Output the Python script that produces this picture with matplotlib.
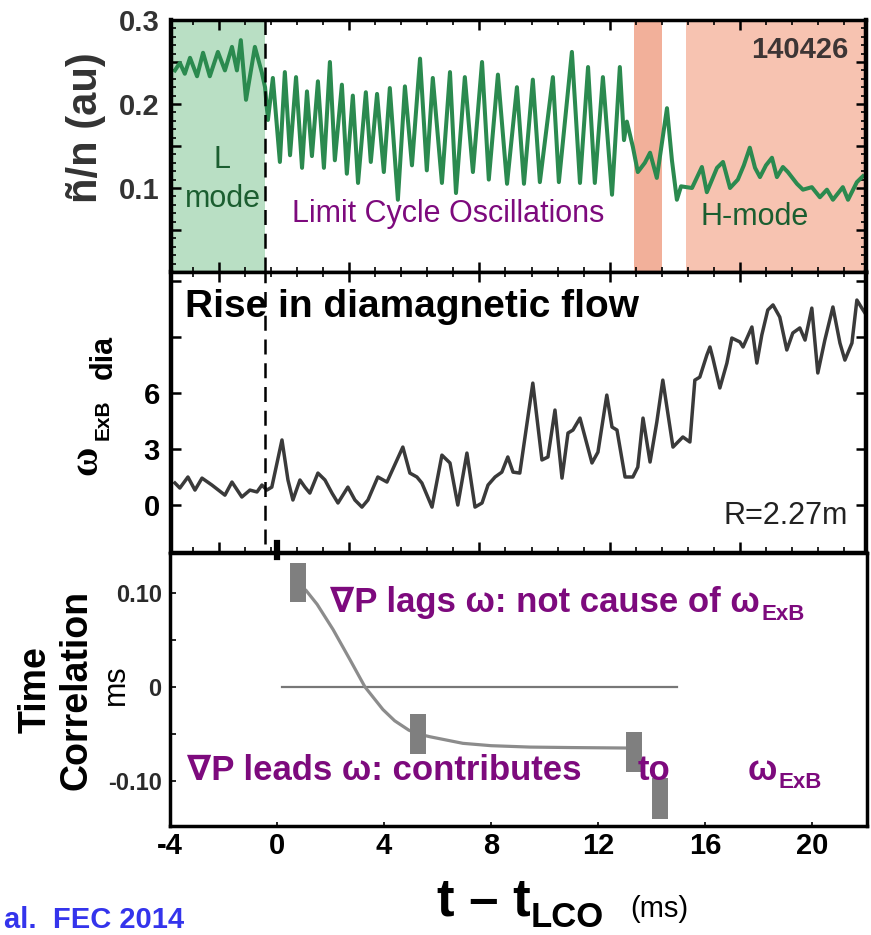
import numpy as np
import matplotlib.pyplot as plt

W, H = 871, 935

# ---- data ----
# shaded regimes on the upper time axis (ms)
t_lco = 1.77
lmode_span = (-1.84, 1.77)
hmode_spans = [(15.93, 17.0), (17.93, 24.84)]

# density fluctuation level n~/n (au)
t_n = [-1.69, -1.50, -1.31, -1.11, -0.84, -0.61, -0.35, -0.04, 0.23, 0.50,
       0.69, 0.84, 1.04, 1.38, 1.65, 1.77,
       1.88, 2.07, 2.34, 2.53, 2.73, 2.96, 3.19, 3.38, 3.57, 3.80,
       4.03, 4.26, 4.45, 4.72, 4.91, 5.14, 5.34, 5.64, 5.83, 6.07,
       6.33, 6.56, 6.87, 7.14, 7.41, 7.72, 7.98, 8.21, 8.56, 8.87,
       9.10, 9.44, 9.75, 10.10, 10.36, 10.71, 11.06, 11.44, 11.71, 12.05,
       12.32, 12.82, 13.05, 13.55, 13.86, 14.17, 14.43, 14.74, 15.09, 15.39,
       15.55, 15.66, 15.89, 16.08, 16.35, 16.55, 16.81, 17.20, 17.39, 17.58,
       17.74, 18.16, 18.54, 18.73, 19.12, 19.35, 19.62, 19.92, 20.15, 20.38,
       20.58, 20.77, 21.00, 21.23, 21.42, 21.65, 21.84, 22.19, 22.42, 22.76,
       23.07, 23.34, 23.57, 23.95, 24.15, 24.49, 24.72]
n_fluct = [0.240, 0.249, 0.236, 0.255, 0.233, 0.261, 0.233, 0.262, 0.240, 0.268,
           0.240, 0.276, 0.205, 0.268, 0.237, 0.220,
           0.181, 0.231, 0.131, 0.238, 0.139, 0.232, 0.124, 0.215, 0.138, 0.227,
           0.124, 0.250, 0.133, 0.223, 0.117, 0.210, 0.106, 0.214, 0.131, 0.212,
           0.119, 0.219, 0.086, 0.221, 0.127, 0.254, 0.121, 0.231, 0.106, 0.238,
           0.094, 0.232, 0.119, 0.250, 0.110, 0.235, 0.105, 0.220, 0.105, 0.229,
           0.107, 0.232, 0.107, 0.262, 0.106, 0.244, 0.106, 0.232, 0.092, 0.244,
           0.157, 0.179, 0.149, 0.119, 0.130, 0.142, 0.112, 0.195, 0.133, 0.086,
           0.102, 0.100, 0.125, 0.095, 0.124, 0.131, 0.100, 0.110, 0.127, 0.148,
           0.124, 0.113, 0.127, 0.136, 0.113, 0.125, 0.119, 0.105, 0.098, 0.101,
           0.089, 0.098, 0.086, 0.101, 0.086, 0.107, 0.114]

# diamagnetic ExB rate at R = 2.27 m
t_w = [-1.69, -1.50, -1.19, -0.92, -0.65, -0.27, 0.23, 0.50, 0.88, 1.19,
       1.46, 1.65, 1.84, 2.03, 2.42, 2.65, 2.84, 3.11, 3.30, 3.49,
       3.80, 4.07, 4.34, 4.57, 4.95, 5.22, 5.49, 5.72, 6.10, 6.45,
       7.06, 7.33, 7.60, 7.79, 8.18, 8.56, 8.87, 9.17, 9.52, 9.83,
       10.10, 10.33, 10.60, 10.86, 11.09, 11.29, 11.55, 12.05, 12.40, 12.63,
       12.90, 13.17, 13.40, 13.59, 13.86, 14.32, 14.55, 14.89, 15.09, 15.28,
       15.59, 15.89, 16.08, 16.28, 16.55, 16.81, 17.04, 17.43, 17.81, 18.08,
       18.27, 18.46, 18.73, 18.85, 18.96, 19.23, 19.50, 19.69, 20.00, 20.12,
       20.46, 20.65, 20.84, 21.07, 21.27, 21.53, 21.80, 22.03, 22.30, 22.50,
       22.76, 22.99, 23.26, 23.57, 23.84, 24.03, 24.30, 24.49, 24.68, 24.80]
w_dia = [1.18, 0.91, 1.50, 0.80, 1.44, 1.07, 0.53, 1.23, 0.43, 0.80,
         0.70, 1.07, 0.80, 0.96, 3.48, 1.34, 0.27, 1.34, 0.96, 0.64,
         1.71, 1.34, 0.64, 0.11, 0.96, 0.27, -0.11, 0.27, 1.50, 1.23,
         3.10, 1.71, 1.50, 1.18, -0.11, 2.67, 2.25, 0.00, 2.78, -0.11,
         0.11, 1.07, 1.50, 1.76, 2.57, 1.76, 1.71, 6.52, 2.41, 2.57,
         5.08, 1.44, 3.85, 4.01, 4.65, 2.25, 2.83, 5.88, 4.17, 4.01,
         1.50, 1.50, 2.03, 4.65, 2.30, 4.44, 6.68, 3.10, 3.64, 3.37,
         6.68, 6.84, 8.02, 8.45, 7.86, 6.26, 7.59, 8.93, 8.72, 8.45,
         9.52, 7.59, 9.09, 10.43, 10.70, 10.05, 8.29, 9.20, 9.47, 8.82,
         10.53, 7.06, 8.82, 10.59, 8.66, 7.75, 8.66, 10.96, 10.53, 10.27]

# time correlation of grad P vs omega (ms), t - t_LCO axis
t_corr = [0.79, 5.27, 13.35, 14.32]
corr = [0.111, -0.050, -0.069, -0.119]
corr_err = [0.021, 0.021, 0.021, 0.022]
t_fit = [0.8, 1.08, 1.5, 2.1, 2.73, 3.29, 3.96, 4.4, 4.93, 5.27, 5.72, 6.95,
         8.0, 9.46, 11.0, 13.05, 13.35]
corr_fit = [0.108, 0.103, 0.088, 0.061, 0.029, 0.0, -0.024, -0.036, -0.046,
            -0.050, -0.053, -0.060, -0.0625, -0.064, -0.0645, -0.065, -0.067]
zero_t = [0.19, 14.95]
zero_c = [0.0, 0.0]
t_ticks = [-4, 0, 4, 8, 12, 16, 20]

plt.rcParams['font.family'] = ['Liberation Sans', 'DejaVu Sans']

PURPLE = '#7d0a7d'
DKGREEN = '#1b5e30'


def P(px, py):
    return px / W, 1 - py / H


fig = plt.figure(figsize=(W / 100, H / 100), dpi=100)
fig.patch.set_facecolor('white')

ax1 = fig.add_axes([171 / W, 1 - 272 / H, 695 / W, 252 / H])
ax2 = fig.add_axes([171 / W, 1 - 552 / H, 695 / W, 280 / H], sharex=ax1)
ax3 = fig.add_axes([170 / W, 1 - 826 / H, 697 / W, 273 / H])

# top: fluctuation level
ax1.axvspan(*lmode_span, color='#b9dfc4', lw=0)
ax1.axvspan(*hmode_spans[0], color='#f2b09a', lw=0)
ax1.axvspan(*hmode_spans[1], color='#f7c3b1', lw=0)
ax1.plot(t_n, n_fluct, color='#2b8a4f', lw=2.9, solid_joinstyle='round')
ax1.axvline(t_lco, color='black', lw=1.8, dashes=(6, 3.5))
ax1.set_xlim(-1.84, 24.84)
ax1.set_ylim(0, 0.3)
ax1.set_xticks(np.arange(0, 25, 5))
ax1.set_xticks(np.arange(-1, 25, 1), minor=True)
ax1.set_yticks(np.arange(0, 0.31, 0.05), labels=['', '', '0.1', '', '0.2', '', '0.3'],
               fontsize=21, fontweight='bold', color='#333333')
ax1.set_yticks(np.arange(0, 0.301, 0.01), minor=True)
ax1.tick_params(axis='x', which='both', direction='in', top=True, bottom=True,
                labelbottom=False)
ax1.tick_params(axis='y', which='both', direction='in', left=True, right=True, pad=8)

# middle: diamagnetic flow
ax2.plot(t_w, w_dia, color='#3a3a3a', lw=2.5, solid_joinstyle='round')
ax2.axvline(t_lco, ymin=0.03, color='black', lw=1.8, dashes=(6, 3.5))
ax2.set_ylim(-2.51, 12.46)
ax2.set_yticks([0, 3, 6, 9, 12], labels=['0', '3', '6', '', ''],
               fontsize=21, fontweight='bold')
ax2.tick_params(axis='x', which='both', direction='in', top=True, bottom=True,
                labelbottom=False)
ax2.tick_params(axis='y', direction='in', left=True, right=True, pad=8)

for ax in (ax1, ax2):
    ax.tick_params(which='major', length=7, width=1.8)
    ax.tick_params(which='minor', length=3.5, width=1.2)
    for s in ax.spines.values():
        s.set_linewidth(2.5)
    ax.spines['left'].set_linewidth(3.2)
    ax.spines['right'].set_linewidth(3.2)

# bottom: time correlation
ax3.plot(zero_t, zero_c, color='#777777', lw=1.6)
ax3.plot(t_fit, corr_fit, color='#8c8c8c', lw=2.3)
ax3.errorbar(t_corr, corr, yerr=corr_err, fmt='none', ecolor='#7f7f7f',
             elinewidth=11.5, capsize=0, zorder=3)
ax3.axvline(0, ymin=0.985, ymax=1.037, color='black', lw=4.5, clip_on=False)
ax3.set_xlim(-4, 22.06)
ax3.set_ylim(-0.148, 0.1426)
ax3.set_xticks(t_ticks, labels=[str(v) for v in t_ticks], fontsize=21,
               fontweight='bold')
ax3.set_yticks([-0.10, 0, 0.10], labels=['-0.10', '0', '0.10'], fontsize=17,
               fontweight='bold', color='#2a2a2a')
ax3.set_yticks([-0.05, 0.05], minor=True)
ax3.tick_params(axis='x', direction='in', length=3, width=1.2, pad=4)
ax3.tick_params(axis='y', which='both', direction='in', length=4, width=1.2, pad=6)
for s in ax3.spines.values():
    s.set_linewidth(2.5)

kw_p = dict(color=PURPLE, fontweight='bold', zorder=5)
l1 = ax3.text(1.98, 0.0798, '∇P lags ω: not cause of ω', fontsize=25,
              va='baseline', **kw_p)
ax3.annotate('ExB', xy=(1, 0), xycoords=l1, xytext=(1, -1),
             textcoords='offset points', va='baseline', fontsize=16, **kw_p)
ax3.text(-3.36, -0.099, '∇P leads ω: contributes', fontsize=25, va='baseline', **kw_p)
ax3.text(13.5, -0.099, 'to', fontsize=25, va='baseline', **kw_p)
l2 = ax3.text(17.6, -0.099, 'ω', fontsize=25, va='baseline', **kw_p)
ax3.annotate('ExB', xy=(1, 0), xycoords=l2, xytext=(1, -1),
             textcoords='offset points', va='baseline', fontsize=16, **kw_p)

# panel annotations
fig.text(*P(222, 160), 'L', fontsize=22, color=DKGREEN, ha='center', va='center')
fig.text(*P(223, 199), 'mode', fontsize=22, color=DKGREEN, ha='center', va='center')
fig.text(*P(292, 222), 'Limit Cycle Oscillations', fontsize=22, color=PURPLE,
         va='baseline')
fig.text(*P(700, 225), 'H-mode', fontsize=22, color=DKGREEN, va='baseline')
fig.text(*P(848, 58), '140426', fontsize=21, fontweight='bold', color='#3d3535',
         ha='right', va='baseline')
fig.text(*P(185, 317), 'Rise in diamagnetic flow', fontsize=28, fontweight='bold',
         va='baseline')
fig.text(*P(848, 524), 'R=2.27m', fontsize=22, color='#222222', ha='right',
         va='baseline')

# axis titles
fig.text(*P(86, 128), 'ñ/n (au)', fontsize=30, fontweight='bold', color='#333333',
         rotation=90, ha='center', va='center')
fig.text(*P(87, 460), 'ω', fontsize=29, fontweight='bold', rotation=90,
         ha='center', va='center', family=['Liberation Serif', 'DejaVu Serif'])
fig.text(*P(103, 420), 'ExB', fontsize=15, fontweight='bold', rotation=90,
         ha='center', va='center')
fig.text(*P(104, 357), 'dia', fontsize=22, fontweight='bold', rotation=90,
         ha='center', va='center')
fig.text(*P(56, 690), 'Time\nCorrelation', fontsize=27, fontweight='bold',
         rotation=90, ha='center', va='center', multialignment='center')
fig.text(*P(116, 685), 'ms', fontsize=22, rotation=90, ha='center', va='center')

xl = fig.text(*P(437, 915), 't – t', fontsize=38, fontweight='bold', va='baseline')
ax3.annotate('LCO', xy=(1, 0), xycoords=xl, xytext=(0, -1),
             textcoords='offset points', va='baseline', fontsize=25,
             fontweight='bold', annotation_clip=False)
fig.text(*P(630, 917), '(ms)', fontsize=21, va='baseline')
fig.text(*P(4, 928), 'al.  FEC 2014', fontsize=21, fontweight='bold',
         color='#3434ec', va='baseline')

fig.savefig('out.png', dpi=100)
